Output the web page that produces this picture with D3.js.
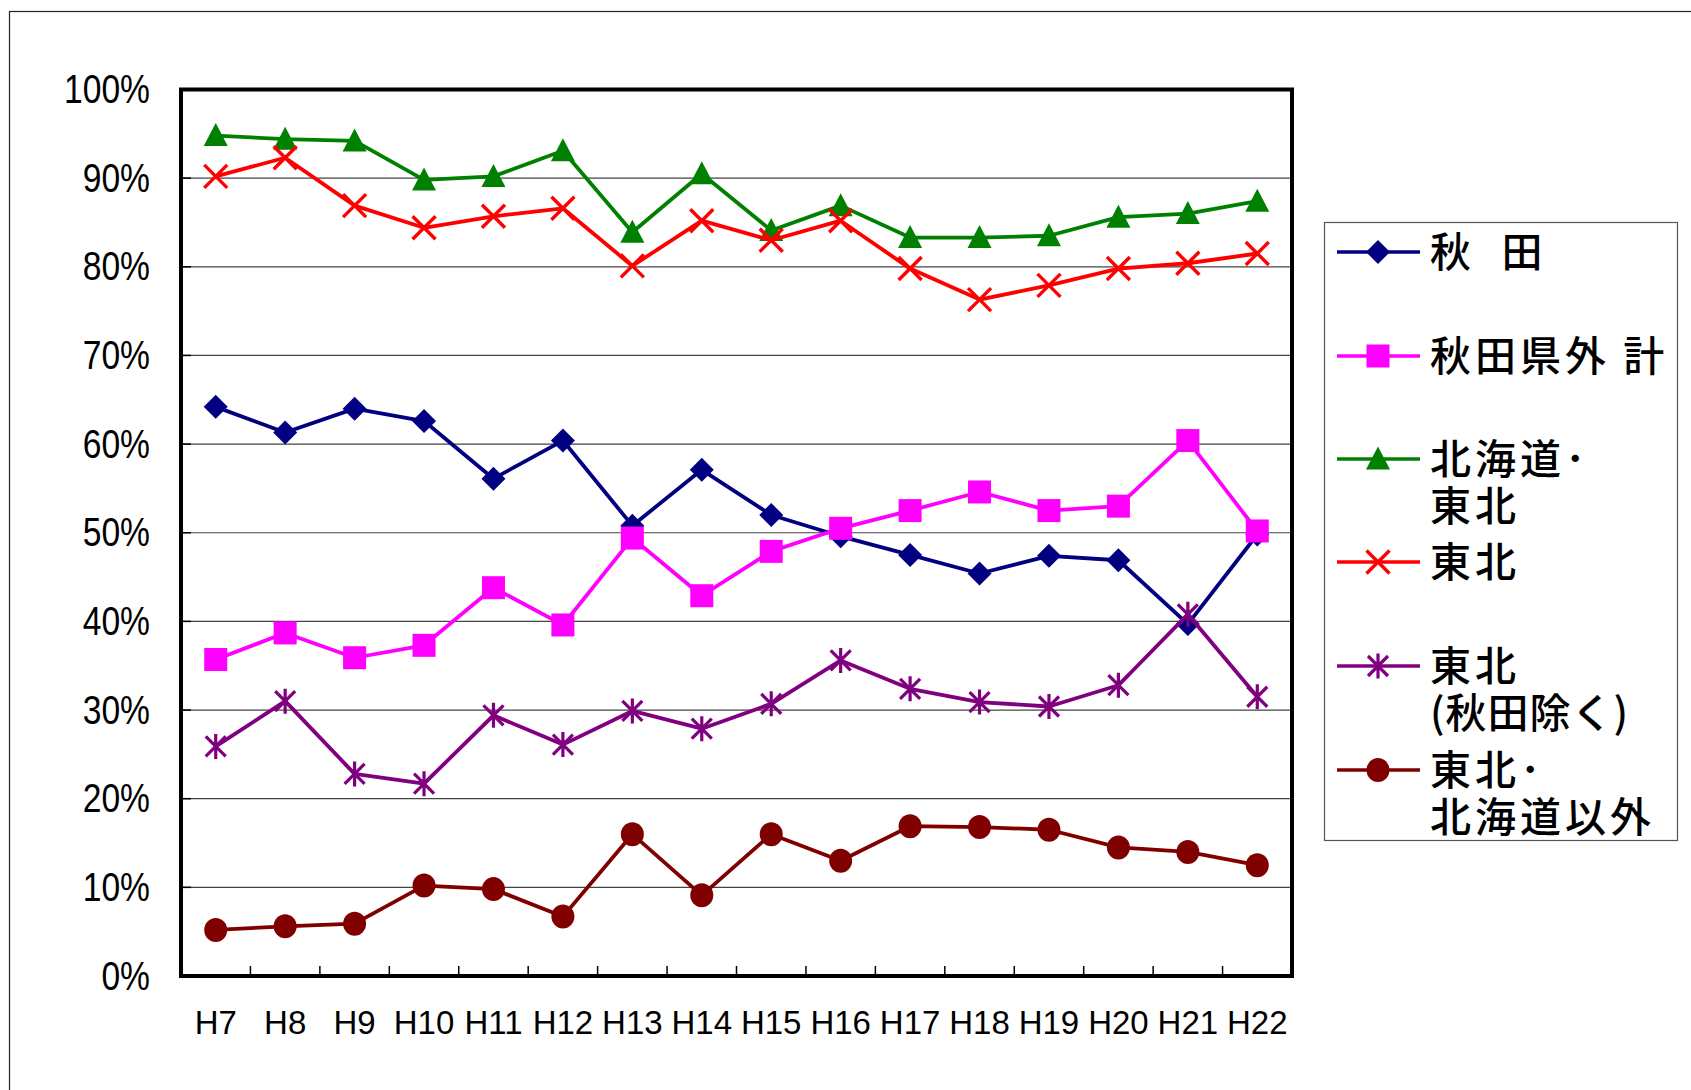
<!DOCTYPE html>
<html>
<head>
<meta charset="utf-8">
<script src="https://cdn.jsdelivr.net/npm/d3@7"></script>
<style>
  body { margin: 0; background: #fff; }
</style>
</head>
<body>
<div id="chart"></div>
<script>
// categories and series (percent)
var years = ["H7", "H8", "H9", "H10", "H11", "H12", "H13", "H14", "H15", "H16", "H17", "H18", "H19", "H20", "H21", "H22"];
var akita = [64.2, 61.3, 64.0, 62.6, 56.1, 60.4, 50.8, 57.1, 52.0, 49.6, 47.5, 45.4, 47.4, 46.9, 39.7, 49.8];
var akitaOutside = [35.7, 38.7, 35.9, 37.3, 43.8, 39.6, 49.4, 42.9, 47.9, 50.5, 52.5, 54.6, 52.5, 53.0, 60.4, 50.2];
var hokkaidoTohoku = [94.8, 94.4, 94.2, 89.8, 90.2, 93.1, 83.9, 90.5, 84.1, 86.9, 83.3, 83.3, 83.5, 85.6, 86.0, 87.4];
var tohoku = [90.2, 92.3, 86.9, 84.4, 85.7, 86.6, 80.1, 85.2, 83.0, 85.2, 79.8, 76.3, 77.9, 79.8, 80.4, 81.5];
var tohokuExAkita = [25.9, 31.0, 22.8, 21.7, 29.4, 26.1, 29.9, 27.9, 30.7, 35.6, 32.4, 30.9, 30.4, 32.8, 40.8, 31.5];
var otherRegions = [5.2, 5.6, 5.9, 10.2, 9.8, 6.7, 16.0, 9.1, 16.0, 13.0, 16.9, 16.8, 16.5, 14.5, 14.0, 12.5];
var yTicks = [0, 10, 20, 30, 40, 50, 60, 70, 80, 90, 100];

var svgWidth = 1691;
var svgHeight = 1090;

var plot = { left: 181, right: 1292, top: 89.5, bottom: 976 };

var series = [
  { label: ["秋  田"], values: akita, color: "#000080", marker: "diamond", legendY: 252 },
  { label: ["秋田県外 計"], values: akitaOutside, color: "#FF00FF", marker: "square", legendY: 356 },
  { label: ["北海道･", "東北"], values: hokkaidoTohoku, color: "#008000", marker: "triangle", legendY: 459 },
  { label: ["東北"], values: tohoku, color: "#FF0000", marker: "x", legendY: 562 },
  { label: ["東北", "(秋田除く)"], values: tohokuExAkita, color: "#800080", marker: "star", legendY: 666 },
  { label: ["東北･", "北海道以外"], values: otherRegions, color: "#800000", marker: "circle", legendY: 770 }
];

var svg = d3.select("#chart")
  .append("svg")
  .attr("width", svgWidth)
  .attr("height", svgHeight);

// outer chart frame (runs off the right/bottom)
svg.append("rect")
  .attr("x", 9.5)
  .attr("y", 11.5)
  .attr("width", svgWidth + 20)
  .attr("height", svgHeight + 20)
  .attr("fill", "none")
  .attr("stroke", "#222")
  .attr("stroke-width", 1.2);

var xScale = d3.scaleBand()
  .domain(years)
  .range([plot.left, plot.right])
  .padding(0);

var yScale = d3.scaleLinear()
  .domain([0, 100])
  .range([plot.bottom, plot.top]);

function xc(d) { return xScale(d) + xScale.bandwidth() / 2; }

// gridlines
svg.append("g")
  .selectAll("line")
  .data(yTicks.slice(1, -1))
  .enter()
  .append("line")
  .attr("x1", plot.left)
  .attr("x2", plot.right)
  .attr("y1", d => yScale(d))
  .attr("y2", d => yScale(d))
  .attr("stroke", "#444")
  .attr("stroke-width", 1.2);

// inner ticks on the y axis
svg.append("g")
  .selectAll("line")
  .data(yTicks)
  .enter()
  .append("line")
  .attr("x1", plot.left)
  .attr("x2", plot.left + 10)
  .attr("y1", d => yScale(d))
  .attr("y2", d => yScale(d))
  .attr("stroke", "#000")
  .attr("stroke-width", 1.5);

// inner ticks on the x axis, at category boundaries
svg.append("g")
  .selectAll("line")
  .data(years.slice(1))
  .enter()
  .append("line")
  .attr("x1", d => xScale(d))
  .attr("x2", d => xScale(d))
  .attr("y1", plot.bottom)
  .attr("y2", plot.bottom - 10)
  .attr("stroke", "#000")
  .attr("stroke-width", 1.5);

// y axis labels (condensed like the original)
var leftAxis = d3.axisLeft(yScale)
  .tickValues(yTicks)
  .tickSize(0)
  .tickPadding(0)
  .tickFormat(d => d + "%");

var yAxis = svg.append("g")
  .attr("transform", `translate(150, 0)`)
  .call(leftAxis);
yAxis.select(".domain").remove();
yAxis.selectAll("text")
  .attr("font-family", "'Liberation Sans', Arial, sans-serif")
  .attr("font-size", 41)
  .attr("fill", "#000")
  .attr("transform", "scale(0.82,1)");

// x axis labels
svg.append("g")
  .selectAll("text")
  .data(years)
  .enter()
  .append("text")
  .attr("x", d => xc(d))
  .attr("y", 1034)
  .attr("text-anchor", "middle")
  .attr("font-family", "'Liberation Sans', Arial, sans-serif")
  .attr("font-size", 33)
  .attr("fill", "#000")
  .text(d => d);

// marker shapes centred on 0,0
function drawMarker(g, type, color) {
  if (type === "diamond") {
    g.append("path").attr("d", "M0,-12L12,0L0,12L-12,0Z").attr("fill", color);
  } else if (type === "square") {
    g.append("rect").attr("x", -11.5).attr("y", -11.5).attr("width", 23).attr("height", 23).attr("fill", color);
  } else if (type === "triangle") {
    g.append("path").attr("d", "M0,-12.5L12,10.5L-12,10.5Z").attr("fill", color);
  } else if (type === "x") {
    g.append("path").attr("d", "M-11.5,-11.5L11.5,11.5M-11.5,11.5L11.5,-11.5")
      .attr("stroke", color).attr("stroke-width", 3.4).attr("fill", "none");
  } else if (type === "star") {
    g.append("path").attr("d", "M-10,-10L10,10M-10,10L10,-10M0,-12.5L0,12.5")
      .attr("stroke", color).attr("stroke-width", 3.2).attr("fill", "none");
  } else {
    g.append("ellipse").attr("rx", 11.5).attr("ry", 12).attr("fill", color);
  }
}

var line = d3.line()
  .x((d, i) => xc(years[i]))
  .y(d => yScale(d));

// series: line then markers, in Excel order
series.forEach(function(s) {
  var g = svg.append("g");
  g.append("path")
    .attr("d", line(s.values))
    .attr("fill", "none")
    .attr("stroke", s.color)
    .attr("stroke-width", 3.8)
    .attr("stroke-linejoin", "round");

  g.selectAll("g.marker")
    .data(s.values)
    .enter()
    .append("g")
    .attr("class", "marker")
    .attr("transform", (d, i) => `translate(${xc(years[i])}, ${yScale(d)})`)
    .each(function() { drawMarker(d3.select(this), s.marker, s.color); });
});

// plot frame
svg.append("rect")
  .attr("x", plot.left)
  .attr("y", plot.top)
  .attr("width", plot.right - plot.left)
  .attr("height", plot.bottom - plot.top)
  .attr("fill", "none")
  .attr("stroke", "#000")
  .attr("stroke-width", 4);

// legend
var legend = svg.append("g");
legend.append("rect")
  .attr("x", 1324.5)
  .attr("y", 222.5)
  .attr("width", 353)
  .attr("height", 618)
  .attr("fill", "#fff")
  .attr("stroke", "#555")
  .attr("stroke-width", 1.2);

series.forEach(function(s) {
  var item = legend.append("g").attr("transform", `translate(0, ${s.legendY})`);
  item.append("line")
    .attr("x1", 1337)
    .attr("x2", 1420)
    .attr("stroke", s.color)
    .attr("stroke-width", 3.4);
  drawMarker(item.append("g").attr("transform", "translate(1378, 0)"), s.marker, s.color);
  s.label.forEach(function(t, i) {
    item.append("text")
      .attr("x", 1430)
      .attr("y", i * 47)
      .attr("dy", "0.36em")
      .attr("xml:space", "preserve")
      .attr("font-family", "'Noto Sans CJK JP', sans-serif")
      .attr("font-size", 41)
      .attr("font-weight", 500)
      .attr("letter-spacing", t.charAt(0) === "(" ? 1 : 4)
      .attr("fill", "#000")
      .text(t);
  });
});
</script>
</body>
</html>
